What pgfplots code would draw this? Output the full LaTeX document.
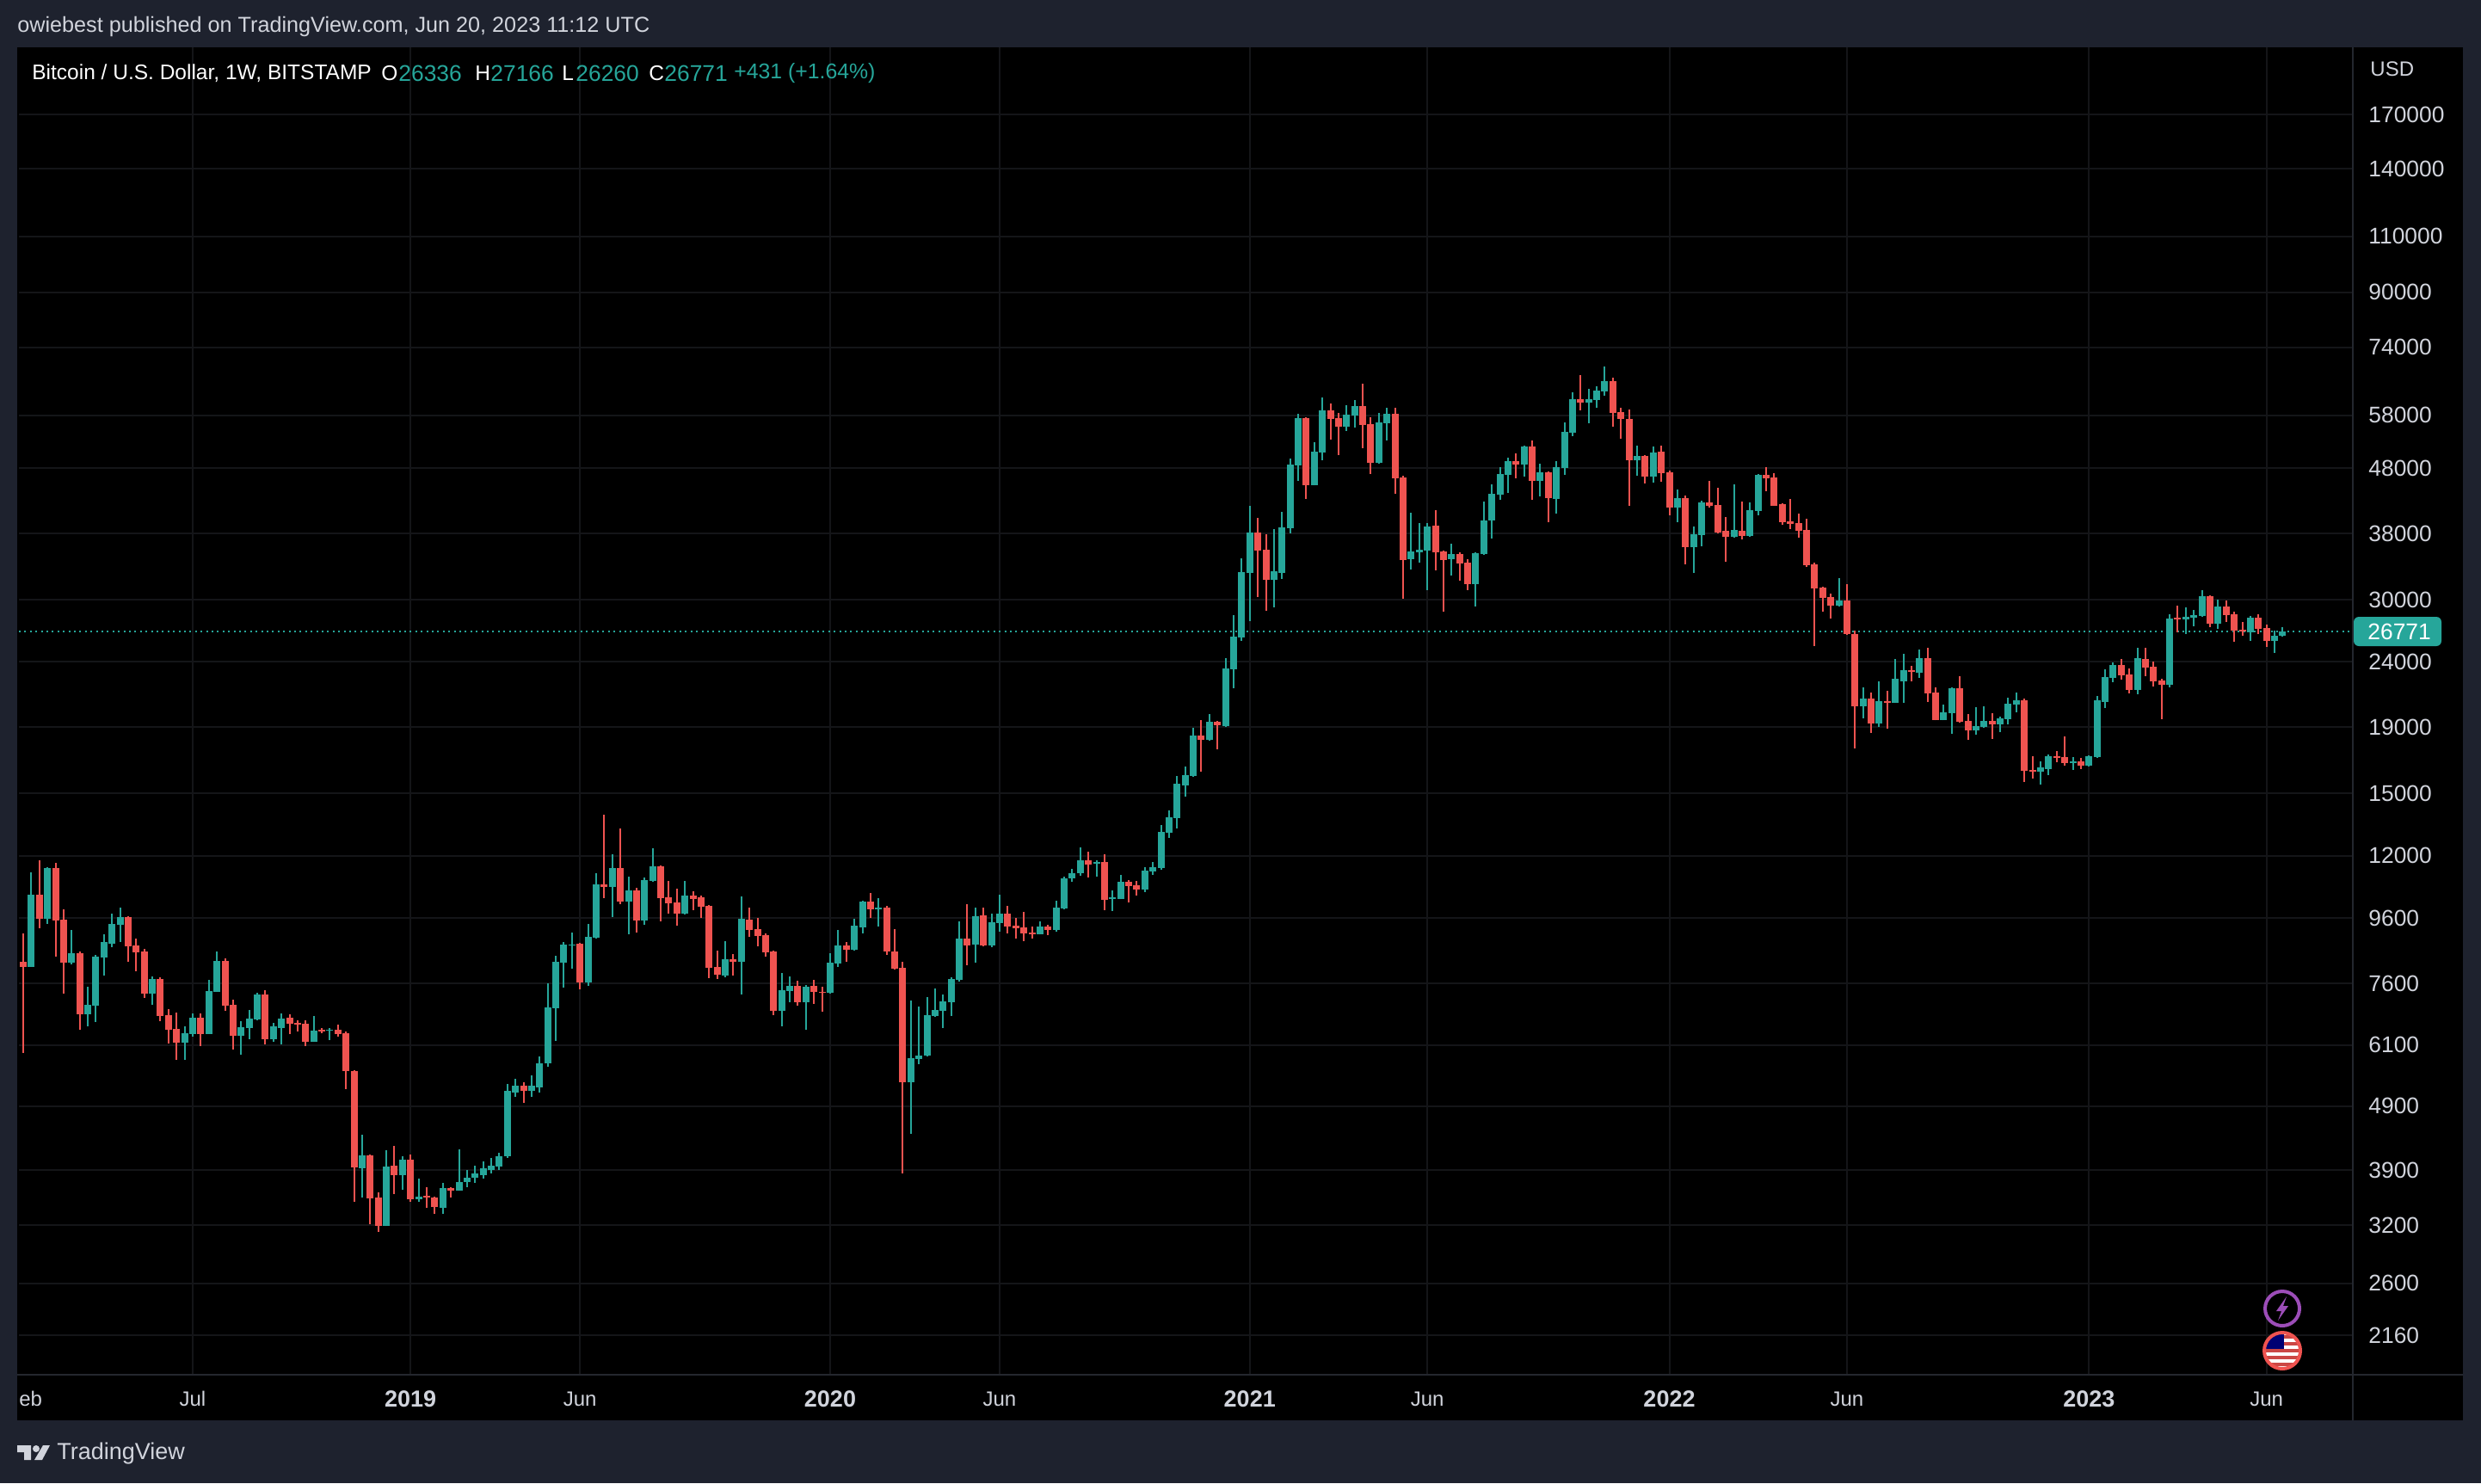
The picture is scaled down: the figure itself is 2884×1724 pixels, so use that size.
\documentclass[border=0pt]{standalone}
\usepackage{fontspec}
\setmainfont{Liberation Sans}
\usepackage{pgfplots}
\pgfplotsset{compat=1.18}
\definecolor{up}{HTML}{26A69A}
\definecolor{dn}{HTML}{EF5350}
\definecolor{frame}{HTML}{1E222E}
\definecolor{gridc}{HTML}{141518}
\definecolor{divc}{HTML}{24272E}
\definecolor{txt}{HTML}{D1D4DC}
\definecolor{bolt}{HTML}{9C4DB8}
\newcommand\candle[6]{%
  \addplot[draw=#1,line width=1pt,forget plot] coordinates {(#2,#5)(#2,#4)};%
  \addplot[draw=#1,line width=4pt,forget plot] coordinates {(#2,#3)(#2,#6)};%
}
\newcommand\U[5]{\candle{up}{#1}{#2}{#3}{#4}{#5}}
\newcommand\D[5]{\candle{dn}{#1}{#2}{#3}{#4}{#5}}
\newcommand\yr[1]{{\fontsize{13.5}{14}\selectfont\textbf{#1}}}
\begin{document}
\begin{tikzpicture}
\begin{scope}[x=0.5pt,y=-0.5pt]
\path[use as bounding box,fill=frame] (0,0) rectangle (2884,1724);
\fill[black] (20,55) rectangle (2863,1651);
\end{scope}
\begin{axis}[
  at={(11pt,-27.5pt)},anchor=north west,
  scale only axis,width=1356.5pt,height=771.5pt,
  xmin=-0.533,xmax=288.7,ymin=1875.5,ymax=216270,ymode=log,
  axis line style={draw=none},
  major tick length=0pt,minor tick num=0,
  grid=major,major grid style={draw=gridc,line width=1pt},
  xtick={21,48,69,100,121,152,174,204,226,256,278},
  xticklabels={Jul,\yr{2019},Jun,\yr{2020},Jun,\yr{2021},Jun,\yr{2022},Jun,\yr{2023},Jun},
  ytick={170000,140000,110000,90000,74000,58000,48000,38000,30000,24000,19000,15000,12000,9600,7600,6100,4900,3900,3200,2600,2160},
  yticklabels={170000,140000,110000,90000,74000,58000,48000,38000,30000,24000,19000,15000,12000,9600,7600,6100,4900,3900,3200,2600,2160},
  yticklabel pos=right,
  yticklabel style={anchor=west,inner sep=0pt,xshift=9pt,font=\fontsize{13.2}{15}\selectfont,text=txt},
  xticklabel style={anchor=center,inner sep=0pt,yshift=-14pt,font=\fontsize{12}{14}\selectfont,text=txt},
]
\addplot[draw=up,line width=1pt,dash pattern=on 1pt off 2.2pt,forget plot] coordinates {(-0.533,26771)(288.7,26771)};
\D{0}{8217}{9095}{5931}{8067}
\U{1}{8067}{11315}{8067}{10445}
\D{2}{10445}{11813}{9264}{9584}
\U{3}{9584}{11526}{9408}{11489}
\D{4}{11489}{11705}{8371}{9524}
\D{5}{9554}{9913}{7333}{8192}
\U{6}{8192}{9208}{8142}{8474}
\D{7}{8474}{8527}{6445}{6811}
\U{8}{6811}{7516}{6525}{7046}
\U{9}{7024}{8422}{6626}{8371}
\U{10}{8345}{9067}{7823}{8820}
\U{11}{8766}{9762}{8658}{9408}
\U{12}{9379}{9974}{8820}{9643}
\D{13}{9643}{9660}{8217}{8685}
\D{14}{8712}{8929}{7944}{8500}
\D{15}{8527}{8605}{7221}{7333}
\U{16}{7333}{7799}{7046}{7728}
\D{17}{7728}{7775}{6646}{6770}
\D{18}{6790}{6938}{6136}{6445}
\D{19}{6465}{6853}{5787}{6155}
\U{20}{6155}{6525}{5787}{6366}
\U{21}{6347}{6832}{6289}{6729}
\D{22}{6729}{6832}{6080}{6347}
\U{23}{6347}{7705}{6347}{7401}
\U{24}{7378}{8527}{7378}{8243}
\D{25}{8243}{8319}{6896}{7024}
\D{26}{7046}{7177}{6005}{6308}
\U{27}{6308}{6646}{5895}{6505}
\U{28}{6485}{6917}{6231}{6708}
\U{29}{6687}{7356}{6667}{7311}
\D{30}{7311}{7423}{6117}{6231}
\U{31}{6231}{6605}{6174}{6525}
\U{32}{6485}{6832}{6117}{6708}
\D{33}{6729}{6811}{6347}{6585}
\D{34}{6605}{6667}{6405}{6565}
\D{35}{6585}{6667}{6080}{6174}
\U{36}{6174}{6770}{6170}{6425}
\D{37}{6445}{6485}{6366}{6405}
\U{38}{6425}{6485}{6212}{6445}
\D{39}{6445}{6565}{6289}{6347}
\D{40}{6366}{6405}{5213}{5561}
\D{41}{5561}{5578}{3484}{3940}
\U{42}{3928}{4428}{3538}{4113}
\D{43}{4113}{4126}{3216}{3527}
\D{44}{3538}{3604}{3128}{3196}
\U{45}{3196}{4190}{3190}{3953}
\D{46}{3965}{4255}{3582}{3832}
\U{47}{3832}{4101}{3637}{4051}
\D{48}{4051}{4126}{3484}{3516}
\U{49}{3516}{3786}{3484}{3549}
\D{50}{3560}{3671}{3410}{3538}
\D{51}{3538}{3549}{3337}{3420}
\U{52}{3410}{3727}{3337}{3660}
\D{53}{3660}{3671}{3538}{3626}
\U{54}{3626}{4203}{3620}{3739}
\U{55}{3739}{3905}{3671}{3797}
\U{56}{3797}{3965}{3727}{3856}
\U{57}{3832}{4026}{3786}{3928}
\U{58}{3905}{4076}{3856}{3965}
\U{59}{3953}{4152}{3905}{4101}
\U{60}{4101}{5310}{4076}{5181}
\U{61}{5150}{5409}{5070}{5278}
\D{62}{5278}{5343}{4963}{5181}
\U{63}{5181}{5478}{5070}{5278}
\U{64}{5245}{5860}{5150}{5717}
\U{65}{5717}{7610}{5647}{6980}
\U{66}{6960}{8397}{6193}{8217}
\U{67}{8192}{8820}{7493}{8739}
\U{68}{8712}{9123}{8018}{8739}
\D{69}{8766}{8790}{7447}{7633}
\U{70}{7633}{9408}{7540}{8983}
\U{71}{8956}{11280}{8929}{10838}
\D{72}{10838}{13904}{10318}{10738}
\U{73}{10738}{12070}{9643}{11489}
\D{74}{11489}{13237}{10098}{10192}
\U{75}{10192}{11142}{9067}{10607}
\D{76}{10607}{10704}{9123}{9524}
\U{77}{9524}{11108}{9379}{11005}
\U{78}{10972}{12333}{10950}{11561}
\D{79}{11561}{11590}{9495}{10318}
\D{80}{10350}{10972}{9762}{10130}
\D{81}{10160}{10672}{9350}{9762}
\U{82}{9762}{10972}{9740}{10414}
\D{83}{10414}{10575}{9882}{10286}
\D{84}{10350}{10414}{9614}{10005}
\D{85}{10036}{10067}{7751}{8042}
\D{86}{8067}{8553}{7728}{7847}
\U{87}{7823}{8847}{7775}{8293}
\D{88}{8293}{8448}{7823}{8217}
\U{89}{8217}{10382}{7311}{9584}
\D{90}{9554}{9974}{8983}{9208}
\D{91}{9236}{9614}{8685}{9011}
\D{92}{9039}{9095}{8371}{8500}
\D{93}{8527}{8550}{6790}{6896}
\U{94}{6896}{7895}{6525}{7423}
\U{95}{7401}{7799}{7111}{7540}
\D{96}{7540}{7680}{7024}{7111}
\U{97}{7111}{7560}{6445}{7516}
\D{98}{7540}{7705}{7067}{7378}
\D{99}{7378}{7516}{6875}{7356}
\U{100}{7356}{8474}{7340}{8192}
\U{101}{8167}{9208}{8067}{8712}
\D{102}{8712}{8820}{8217}{8579}
\U{103}{8579}{9584}{8560}{9350}
\U{104}{9293}{10220}{9095}{10192}
\D{105}{10192}{10510}{9614}{9913}
\U{106}{9913}{10318}{9321}{9974}
\D{107}{9974}{10036}{8422}{8527}
\D{108}{8527}{9236}{8000}{8018}
\D{109}{8042}{8217}{3856}{5343}
\U{110}{5343}{7155}{4442}{5822}
\U{111}{5805}{7000}{5699}{5877}
\U{112}{5877}{7243}{5860}{6790}
\U{113}{6770}{7470}{6750}{6917}
\U{114}{6896}{7311}{6485}{7133}
\U{115}{7111}{7775}{6770}{7728}
\U{116}{7705}{9495}{7656}{8929}
\D{117}{8929}{10098}{8117}{8712}
\U{118}{8739}{9974}{8192}{9672}
\D{119}{9702}{9974}{8685}{8712}
\U{120}{8712}{9762}{8658}{9466}
\U{121}{9437}{10445}{9151}{9762}
\D{122}{9762}{10036}{9095}{9321}
\D{123}{9350}{9614}{8929}{9264}
\D{124}{9293}{9823}{8847}{9095}
\D{125}{9123}{9321}{8929}{9067}
\U{126}{9067}{9495}{9050}{9321}
\D{127}{9321}{9379}{9039}{9208}
\U{128}{9208}{10224}{9151}{9974}
\U{129}{9944}{11142}{9920}{11075}
\U{130}{11075}{11454}{10940}{11280}
\U{131}{11280}{12370}{11177}{11813}
\D{132}{11813}{12185}{11108}{11632}
\U{133}{11668}{11813}{11142}{11740}
\D{134}{11740}{12070}{9882}{10255}
\U{135}{10286}{10607}{9852}{10350}
\U{136}{10286}{11211}{10270}{10938}
\D{137}{10938}{11005}{10160}{10770}
\D{138}{10804}{10972}{10414}{10640}
\U{139}{10640}{11526}{10542}{11385}
\U{140}{11350}{11740}{11211}{11526}
\U{141}{11489}{13400}{11419}{13075}
\U{142}{13035}{14120}{12796}{13776}
\U{143}{13734}{15968}{13237}{15532}
\U{144}{15436}{16517}{14831}{16018}
\U{145}{15968}{18970}{15919}{18452}
\D{146}{18452}{19502}{16215}{18170}
\U{147}{18170}{19926}{18115}{19382}
\D{148}{19382}{19443}{17566}{19145}
\U{149}{19087}{24336}{19028}{23454}
\U{150}{23383}{28382}{21860}{26281}
\U{151}{26200}{34773}{25880}{33103}
\U{152}{33001}{41954}{27778}{38133}
\D{153}{38133}{40185}{30278}{35750}
\D{154}{35860}{37904}{28822}{32199}
\U{155}{32199}{38609}{29180}{33205}
\U{156}{33001}{41060}{32300}{38847}
\U{157}{38728}{49690}{38020}{48632}
\U{158}{48482}{58315}{45870}{57423}
\D{159}{57423}{57600}{42998}{45169}
\U{160}{45169}{52682}{45100}{50930}
\U{161}{50775}{61825}{49380}{59035}
\D{162}{59035}{60505}{53170}{57246}
\D{163}{57423}{58490}{50305}{55684}
\U{164}{55684}{60140}{54830}{58130}
\U{165}{57950}{61256}{55510}{59950}
\D{166}{59950}{64950}{51560}{56026}
\D{167}{56200}{57600}{47010}{48930}
\U{168}{48930}{58490}{48780}{56545}
\U{169}{56370}{59583}{53000}{58315}
\D{170}{58315}{59583}{43800}{46300}
\D{171}{46440}{46720}{30090}{34560}
\U{172}{34670}{40935}{33410}{35640}
\U{173}{35530}{39450}{34243}{35860}
\U{174}{35750}{39450}{31030}{38967}
\D{175}{39090}{41314}{33310}{35530}
\D{176}{35640}{35750}{28700}{34560}
\U{177}{34670}{36640}{32700}{35313}
\D{178}{35313}{35500}{32100}{34140}
\D{179}{34243}{34670}{31030}{31710}
\U{180}{31710}{35500}{29270}{35420}
\U{181}{35313}{42605}{35200}{39815}
\U{182}{39815}{45310}{37325}{43800}
\U{183}{43665}{48186}{42870}{47010}
\U{184}{46870}{49845}{43935}{49235}
\D{185}{49235}{50615}{46300}{48632}
\U{186}{48632}{52100}{46581}{51880}
\D{187}{51880}{53000}{42870}{45870}
\U{188}{45870}{48780}{43400}{47300}
\D{189}{47300}{47500}{39570}{43130}
\U{190}{42998}{49235}{40810}{48186}
\U{191}{48036}{56545}{46870}{54660}
\U{192}{54500}{62980}{53830}{61445}
\D{193}{61445}{66975}{59035}{60700}
\U{194}{60700}{63760}{56370}{61445}
\U{195}{61256}{64345}{59583}{63365}
\U{196}{63170}{69070}{62205}{65550}
\D{197}{65550}{66355}{55684}{58490}
\D{198}{58670}{59583}{53330}{57246}
\D{199}{57246}{59220}{41954}{49380}
\U{200}{49380}{52040}{46725}{50150}
\D{201}{50150}{50305}{45450}{46581}
\U{202}{46581}{51880}{45590}{50775}
\D{203}{50930}{52040}{45730}{47150}
\D{204}{47300}{47600}{40555}{41695}
\U{205}{41695}{44480}{39570}{43130}
\D{206}{43130}{43530}{34030}{36195}
\U{207}{36195}{38967}{33001}{37904}
\U{208}{37790}{42740}{36305}{42473}
\D{209}{42473}{45870}{41695}{41954}
\D{210}{42080}{44750}{38020}{38133}
\D{211}{38370}{40310}{34350}{37555}
\U{212}{37555}{45310}{37440}{38490}
\D{213}{38370}{42605}{37210}{37670}
\U{214}{37670}{42473}{37555}{41314}
\U{215}{41186}{47010}{40555}{46870}
\D{216}{46870}{48186}{44206}{46300}
\D{217}{46440}{47150}{41900}{41954}
\D{218}{42210}{42340}{39200}{39570}
\D{219}{39690}{42998}{38609}{39330}
\D{220}{39450}{40810}{37440}{38370}
\D{221}{38490}{40060}{33680}{33890}
\D{222}{34030}{34243}{25410}{31224}
\D{223}{31320}{31400}{28700}{30180}
\D{224}{30278}{30650}{28040}{29360}
\U{225}{29360}{32400}{29270}{29905}
\D{226}{29905}{31710}{26480}{26520}
\D{227}{26520}{26860}{17620}{20490}
\U{228}{20490}{21920}{19620}{21060}
\D{229}{21060}{21520}{18620}{19260}
\U{230}{19260}{22395}{19028}{20870}
\D{231}{20870}{21650}{18910}{20745}
\U{232}{20745}{24260}{20720}{22605}
\U{233}{22395}{24710}{20745}{23310}
\D{234}{23310}{23672}{22395}{23170}
\U{235}{23100}{25095}{22675}{24336}
\D{236}{24336}{25250}{20805}{21450}
\D{237}{21520}{21920}{19480}{19500}
\U{238}{19500}{20610}{19480}{20050}
\U{239}{19990}{21920}{18565}{21860}
\D{240}{21860}{22815}{19320}{19382}
\D{241}{19443}{19926}{18170}{18790}
\U{242}{18790}{20420}{18509}{19087}
\U{243}{19028}{20490}{18970}{19443}
\D{244}{19443}{19990}{18225}{19200}
\U{245}{19200}{19745}{18680}{19620}
\U{246}{19560}{21125}{19200}{20680}
\U{247}{20610}{21520}{20050}{20932}
\D{248}{20932}{21060}{15630}{16265}
\D{249}{16315}{17130}{15820}{16215}
\U{250}{16215}{16825}{15485}{16470}
\U{251}{16366}{17250}{16018}{17130}
\D{252}{17130}{17460}{16775}{17030}
\D{253}{17080}{18395}{16570}{16720}
\U{254}{16720}{17080}{16315}{16825}
\D{255}{16825}{17030}{16366}{16570}
\U{256}{16570}{17180}{16540}{17130}
\U{257}{17080}{21260}{17050}{20932}
\U{258}{20805}{23380}{20360}{22750}
\U{259}{22675}{23960}{22330}{23745}
\D{260}{23745}{24260}{22540}{22885}
\D{261}{22955}{23454}{21450}{21720}
\U{262}{21720}{25250}{21380}{24336}
\D{263}{24260}{25250}{22815}{23525}
\D{264}{23600}{24035}{21990}{22395}
\D{265}{22465}{22605}{19560}{22120}
\U{266}{22120}{28470}{21920}{28034}
\D{267}{28120}{29360}{26690}{27950}
\U{268}{27950}{29180}{26520}{28208}
\U{269}{28120}{28910}{27300}{28382}
\U{270}{28295}{31030}{28208}{30370}
\D{271}{30370}{30465}{27210}{27520}
\U{272}{27520}{30000}{27020}{29270}
\D{273}{29270}{29905}{27690}{28382}
\D{274}{28470}{28700}{25800}{26860}
\D{275}{26940}{27690}{26360}{26771}
\U{276}{26690}{28295}{25880}{28120}
\D{277}{28120}{28470}{26520}{27020}
\D{278}{27110}{27450}{25330}{25880}
\U{279}{25880}{26860}{24790}{26360}
\U{280}{26336}{27166}{26260}{26771}
\end{axis}
\begin{scope}[x=0.5pt,y=-0.5pt,every node/.style={inner sep=0pt,anchor=west,font=\fontsize{13.2}{15}\selectfont}]
% panel dividers
\draw[divc,line width=1pt] (2735,55)--(2735,1651);
\draw[divc,line width=1pt] (20,1598)--(2863,1598);
% time scale label cut by the left edge
\node[text=txt,font=\fontsize{12}{14}\selectfont] at (22,1626) {eb};
% header
\node[text=txt,font=\fontsize{12.6}{15}\selectfont] at (20,31) {owiebest published on TradingView.com, Jun 20, 2023 11:12 UTC};
% legend
\node[text=white,font=\fontsize{12.25}{15}\selectfont] at (37,85) {Bitcoin / U.S. Dollar, 1W, BITSTAMP};
\node[text=white,font=\fontsize{12.25}{15}\selectfont] at (443,85) {O};
\node[text=up] at (463,85) {26336};
\node[text=white,font=\fontsize{12.25}{15}\selectfont] at (552,85) {H};
\node[text=up] at (570,85) {27166};
\node[text=white,font=\fontsize{12.25}{15}\selectfont] at (653,85) {L};
\node[text=up] at (669,85) {26260};
\node[text=white,font=\fontsize{12.25}{15}\selectfont] at (754,85) {C};
\node[text=up] at (772,85) {26771};
\node[text=up,font=\fontsize{12.4}{15}\selectfont] at (853,85) {+431 (+1.64\%)};
% price scale
\node[text=txt,font=\fontsize{12}{14}\selectfont] at (2755,80) {USD};
\fill[up,rounded corners=3pt] (2736,717) rectangle (2838,751);
\node[text=white] at (2752,734) {26771};
% icons
\draw[draw=bolt,fill=black,line width=2pt] (2653,1521) circle (20);
\fill[bolt] (2658,1507)--(2646,1524)--(2652,1524)--(2648,1535)--(2660,1518)--(2654,1518)--cycle;
\begin{scope}
\clip (2653,1570) circle (20);
\fill[white] (2633,1550) rectangle (2673,1590);
\foreach \yy in {1552,1560,1568,1576,1584} \fill[dn!85!black] (2633,\yy) rectangle (2673,\yy+4);
\fill[blue!45!black] (2633,1550) rectangle (2655,1568);
\end{scope}
\draw[dn,line width=2pt] (2653,1570) circle (21);
% footer
\fill[txt] (20,1680)--(36,1680)--(36,1697)--(28,1697)--(28,1688)--(20,1688)--cycle;
\fill[txt] (42,1684) circle (4);
\fill[txt] (50,1680)--(58,1680)--(49,1697)--(40,1697)--cycle;
\node[text=txt,font=\fontsize{13.5}{16}\selectfont] at (66,1689) {TradingView};
\end{scope}
\end{tikzpicture}
\end{document}
